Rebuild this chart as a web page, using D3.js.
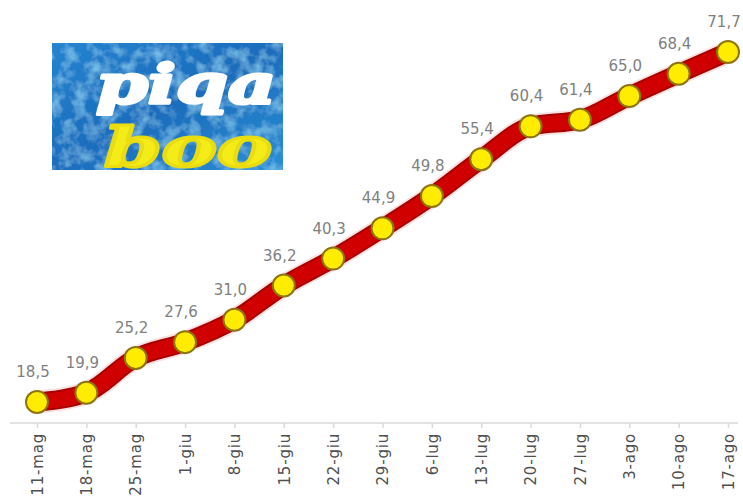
<!DOCTYPE html>
<html>
<head>
<meta charset="utf-8">
<script src="https://cdn.jsdelivr.net/npm/d3@7"></script>
<style>
  html, body { margin: 0; padding: 0; background: #ffffff; }
  svg { display: block; }
</style>
</head>
<body>
<svg id="chart" width="743" height="501"></svg>
<script>
// Weekly cumulative values (Italian date labels, decimal comma in labels)
const weeks = ["11-mag", "18-mag", "25-mag", "1-giu", "8-giu", "15-giu", "22-giu",
               "29-giu", "6-lug", "13-lug", "20-lug", "27-lug", "3-ago", "10-ago", "17-ago"];
const values = [18.5, 19.9, 25.2, 27.6, 31.0, 36.2, 40.3, 44.9, 49.8, 55.4, 60.4, 61.4, 65.0, 68.4, 71.7];
const logoWords = ["piqa", "boo"];

const data = weeks.map((w, i) => ({ week: w, value: values[i] }));
const fmt = v => d3.format(".1f")(v).replace(".", ",");

const svg = d3.select("#chart");

const x = d3.scalePoint().domain(weeks).range([37, 728]);
const y = d3.scaleLinear().domain([d3.min(values), d3.max(values)]).range([402, 52]);

// ---- logo panel ----
const defs = svg.append("defs");
const grad = defs.append("linearGradient").attr("id", "logoBg")
  .attr("x1", 0).attr("y1", 0).attr("x2", 1).attr("y2", 1);
grad.append("stop").attr("offset", "0%").attr("stop-color", "#2684d0");
grad.append("stop").attr("offset", "50%").attr("stop-color", "#1b6cbc");
grad.append("stop").attr("offset", "100%").attr("stop-color", "#2a8fd4");

const tex = defs.append("filter").attr("id", "mottle")
  .attr("x", 0).attr("y", 0).attr("width", 1).attr("height", 1);
tex.append("feTurbulence").attr("type", "fractalNoise")
  .attr("baseFrequency", "0.08").attr("numOctaves", 3).attr("seed", 11).attr("result", "noise");
tex.append("feColorMatrix").attr("in", "noise").attr("type", "matrix")
  .attr("values", "0 0 0 0 0.25  0 0 0 0 0.66  0 0 0 0 0.92  0 0 0 1.5 -0.62")
  .attr("result", "spots");
tex.append("feComposite").attr("in", "spots").attr("in2", "SourceGraphic").attr("operator", "in")
  .attr("result", "clipped");
tex.append("feMerge").call(m => {
  m.append("feMergeNode").attr("in", "SourceGraphic");
  m.append("feMergeNode").attr("in", "clipped");
});

const logo = svg.append("g").attr("class", "logo");
logo.append("rect").attr("x", 52).attr("y", 43).attr("width", 231).attr("height", 127)
  .attr("fill", "url(#logoBg)").attr("filter", "url(#mottle)");

const logoFont = sel => sel
  .style("font-family", "'DejaVu Serif', serif").style("font-weight", "bold")
  .style("font-style", "italic").style("font-size", "54px")
  .attr("stroke-linejoin", "round").attr("stroke-width", 3);

logo.append("text").call(logoFont)
  .attr("x", 96).attr("y", 103)
  .attr("textLength", 180).attr("lengthAdjust", "spacingAndGlyphs")
  .attr("fill", "#ffffff").attr("stroke", "#ffffff")
  .text(logoWords[0]);

logo.append("text").call(logoFont)
  .attr("x", 104).attr("y", 166)
  .attr("textLength", 168).attr("lengthAdjust", "spacingAndGlyphs")
  .attr("fill", "#f4ec18").attr("stroke", "#e9dc10")
  .text(logoWords[1]);

// ---- category axis ----
const axisY = 423;
const axis = svg.append("g").attr("transform", `translate(0,${axisY})`)
  .call(d3.axisBottom(x).tickSize(5).tickPadding(9).tickSizeOuter(0));
axis.select(".domain").attr("stroke", "#d9d9d9").attr("stroke-width", 1.5)
  .attr("d", "M10,0H738");
axis.selectAll(".tick line").attr("stroke", "#d9d9d9").attr("stroke-width", 1.5);
axis.selectAll(".tick text")
  .attr("transform", "rotate(-90)")
  .attr("x", -10).attr("y", 0).attr("dy", "0.35em")
  .attr("text-anchor", "end")
  .style("font-family", "'DejaVu Sans', sans-serif")
  .style("font-size", "15px")
  .style("letter-spacing", "0.8px")
  .attr("fill", "#505050");

// ---- line ----
const line = d3.line().x(d => x(d.week)).y(d => y(d.value)).curve(d3.curveMonotoneX);

svg.append("path").datum(data).attr("d", line)
  .attr("fill", "none").attr("stroke", "#f6c9c9").attr("stroke-width", 23)
  .attr("stroke-linecap", "round").attr("stroke-linejoin", "round").attr("opacity", 0.55);
svg.append("path").datum(data).attr("d", line)
  .attr("fill", "none").attr("stroke", "#a80000").attr("stroke-width", 19)
  .attr("stroke-linecap", "round").attr("stroke-linejoin", "round");
svg.append("path").datum(data).attr("d", line)
  .attr("fill", "none").attr("stroke", "#d00000").attr("stroke-width", 15)
  .attr("stroke-linecap", "round").attr("stroke-linejoin", "round");

// ---- markers ----
svg.append("g").selectAll("circle").data(data).join("circle")
  .attr("cx", d => x(d.week)).attr("cy", d => y(d.value)).attr("r", 11)
  .attr("fill", "#ffec00").attr("stroke", "#8d7410").attr("stroke-width", 2);

// ---- value labels ----
svg.append("g").selectAll("text").data(data).join("text")
  .attr("x", d => x(d.week) - 4).attr("y", d => y(d.value) - 25)
  .attr("text-anchor", "middle")
  .style("font-family", "'DejaVu Sans', sans-serif")
  .style("font-size", "15px")
  .attr("fill", "#7f7f7f")
  .text(d => fmt(d.value));
</script>
</body>
</html>
